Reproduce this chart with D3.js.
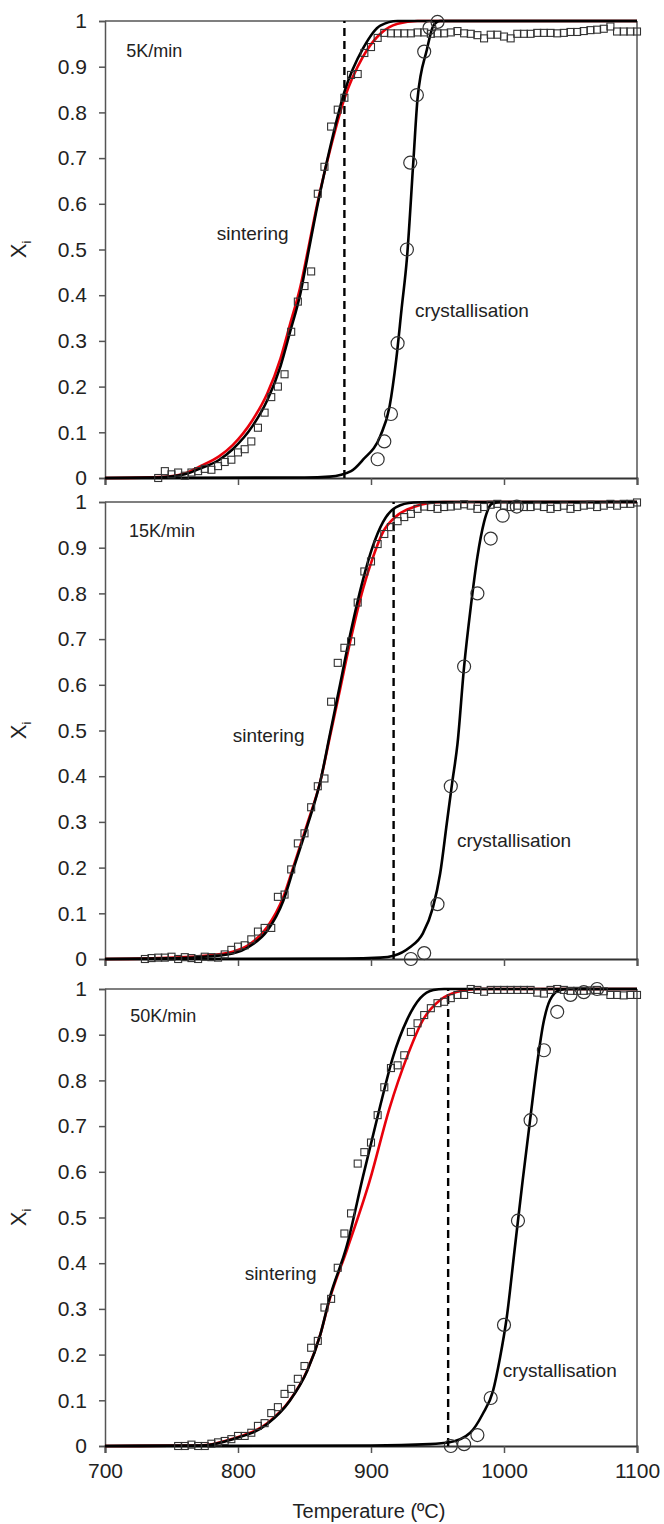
<!DOCTYPE html>
<html>
<head>
<meta charset="utf-8">
<script src="https://cdn.jsdelivr.net/npm/d3@7"></script>
<style>
    body { margin: 0; background: #fff; }
    svg { font-family: "Liberation Sans", Arial, sans-serif; }
</style>
</head>
<body>
<svg id="chart"></svg>
<script>
// ---- data: [temperature (ºC), X_i] ----
let xTicks = [700, 800, 900, 1000, 1100];
let yTicks = [0, 0.1, 0.2, 0.3, 0.4, 0.5, 0.6, 0.7, 0.8, 0.9, 1];
let rates = ["5K/min", "15K/min", "50K/min"];
let dashT = [880, 917, 958];

// sintering measurements (squares)
let sq5 = [[740,0],[745,0.015],[750,0.008],[755,0.012],[760,0.005],[765,0.012],[770,0.015],[775,0.02],
    [780,0.018],[785,0.026],[790,0.035],[795,0.04],[800,0.056],[805,0.063],[810,0.08],[815,0.11],
    [820,0.143],[825,0.177],[830,0.2],[835,0.227],[840,0.32],[845,0.386],[850,0.42],[855,0.452],
    [860,0.622],[865,0.681],[870,0.769],[875,0.806],[880,0.832],[885,0.882],[890,0.884],[895,0.93],
    [900,0.943],[905,0.963],[910,0.974],[915,0.973],[920,0.973],[925,0.973],[930,0.973],[935,0.975],
    [940,0.975],[945,0.972],[950,0.973],[955,0.973],[960,0.975],[965,0.978],[970,0.973],[975,0.972],
    [980,0.969],[985,0.962],[990,0.97],[995,0.97],[1000,0.966],[1005,0.962],[1010,0.972],[1015,0.972],
    [1020,0.972],[1025,0.974],[1030,0.974],[1035,0.974],[1040,0.973],[1045,0.974],[1050,0.976],
    [1055,0.976],[1060,0.978],[1065,0.98],[1070,0.981],[1075,0.983],[1080,0.988],[1085,0.977],
    [1090,0.977],[1095,0.977],[1100,0.977]];
let sq15 = [[730,0],[735,0.002],[740,0.003],[745,0.003],[750,0.005],[755,0],[760,0.004],[765,0.002],
    [770,0],[775,0.005],[780,0.004],[785,0.003],[790,0.01],[795,0.02],[800,0.027],[805,0.03],
    [810,0.043],[815,0.06],[820,0.068],[825,0.068],[830,0.136],[835,0.141],[840,0.196],[845,0.253],
    [850,0.275],[855,0.332],[860,0.378],[865,0.395],[870,0.563],[875,0.648],[880,0.681],[885,0.695],
    [890,0.78],[895,0.848],[900,0.87],[905,0.908],[910,0.93],[915,0.945],[920,0.958],[925,0.967],
    [930,0.974],[935,0.985],[940,0.99],[945,0.989],[950,0.985],[955,0.989],[960,0.99],[965,0.992],
    [970,0.995],[975,0.992],[980,0.985],[985,0.989],[990,0.994],[995,0.996],[1000,0.992],[1005,0.989],
    [1010,0.992],[1015,0.989],[1020,0.989],[1025,0.992],[1030,0.989],[1035,0.985],[1040,0.989],
    [1045,0.992],[1050,0.985],[1055,0.989],[1060,0.992],[1065,0.994],[1070,0.989],[1075,0.992],
    [1080,0.996],[1085,0.992],[1090,0.996],[1095,0.996],[1100,0.999]];
let sq50 = [[755,0],[760,0],[765,0.003],[770,0],[775,0],[780,0.005],[785,0.008],[790,0.011],
    [795,0.015],[800,0.022],[805,0.022],[810,0.029],[815,0.044],[820,0.05],[825,0.072],[830,0.085],
    [835,0.114],[840,0.125],[845,0.147],[850,0.175],[855,0.215],[860,0.23],[865,0.303],[870,0.322],
    [875,0.39],[880,0.465],[885,0.509],[890,0.618],[895,0.643],[900,0.664],[905,0.724],[910,0.785],
    [915,0.827],[920,0.833],[925,0.855],[930,0.906],[935,0.925],[940,0.943],[945,0.958],[950,0.969],
    [955,0.972],[960,0.98],[965,0.987],[970,0.987],[975,1],[980,0.998],[985,0.994],[990,0.998],
    [995,0.998],[1000,0.998],[1005,0.998],[1010,0.998],[1015,0.998],[1020,0.998],[1025,0.992],
    [1030,0.99],[1035,0.998],[1040,1],[1045,0.998],[1050,0.996],[1055,0.996],[1060,0.996],
    [1065,0.997],[1070,0.998],[1075,0.995],[1080,0.987],[1085,0.987],[1090,0.986],[1095,0.987],
    [1100,0.987]];

// crystallisation measurements (circles)
let ci5 = [[905,0.041],[910,0.08],[915,0.14],[920,0.295],[927,0.5],[929.5,0.69],[934.5,0.838],
    [940,0.933],[944,0.985],[950,0.998]];
let ci15 = [[930,0],[940,0.013],[950,0.12],[960,0.378],[970,0.64],[980,0.8],[990,0.92],[999,0.97],
    [1009.6,0.99]];
let ci50 = [[960,0],[970,0.004],[980,0.024],[990,0.105],[1000,0.265],[1010.5,0.493],[1020,0.713],
    [1030,0.866],[1040,0.95],[1050,0.987],[1060,0.993],[1070,1]];

// fitted curves, black sintering / red sintering / black crystallisation
let sinBlack5 = [[700,0],[740,0.001],[760,0.008],[771,0.02],[786,0.04],[796,0.063],[811,0.114],
    [822,0.17],[832,0.245],[839,0.318],[847,0.405],[852,0.48],[860,0.6],[869,0.72],[880,0.845],
    [894,0.94],[907,0.99],[920,1],[1100,1]];
let sinRed5 = [[700,0],[740,0.002],[760,0.01],[771,0.025],[786,0.048],[796,0.072],[811,0.127],
    [822,0.185],[832,0.262],[839,0.335],[847,0.42],[852,0.49],[860,0.605],[869,0.715],[880,0.83],
    [894,0.922],[907,0.972],[920,0.994],[935,1],[1100,1]];
let cry5 = [[700,0],[850,0.001],[869,0.003],[885,0.015],[894,0.04],[907,0.092],[914,0.157],
    [919,0.26],[923,0.37],[927,0.48],[932,0.7],[935,0.83],[942,0.937],[947,0.99],[952,1],[1100,1]];

let sinBlack15 = [[700,0],[740,0.001],[770,0.004],[796,0.012],[810,0.03],[822,0.062],[834,0.127],
    [842,0.2],[852,0.29],[862,0.39],[869,0.49],[876,0.59],[884,0.705],[894,0.83],[901,0.9],
    [909,0.956],[919,0.989],[932,0.999],[945,1],[1100,1]];
let sinRed15 = [[700,0],[740,0.002],[770,0.006],[796,0.016],[810,0.035],[822,0.07],[834,0.135],
    [842,0.205],[852,0.295],[862,0.39],[869,0.485],[876,0.58],[884,0.69],[894,0.81],[901,0.875],
    [909,0.934],[919,0.969],[932,0.989],[944,0.998],[955,1],[1100,1]];
let cry15 = [[700,0],[880,0.001],[907,0.003],[917,0.007],[929,0.025],[939,0.056],[946.6,0.113],
    [952,0.187],[957,0.297],[961,0.385],[965,0.47],[970,0.64],[975,0.77],[980,0.88],[985,0.956],
    [991,0.996],[998,1],[1100,1]];

let sinBlack50 = [[700,0],[771,0.001],[796,0.015],[822,0.048],[839,0.099],[852,0.164],[862,0.245],
    [869,0.325],[882,0.44],[894,0.59],[907,0.745],[916.5,0.851],[927,0.932],[937,0.98],[947,0.998],
    [955,1],[1100,1]];
let sinRed50 = [[700,0],[771,0.001],[796,0.016],[822,0.05],[839,0.1],[852,0.165],[862,0.245],
    [869,0.322],[882,0.43],[899,0.58],[914,0.74],[927,0.851],[939,0.932],[952,0.976],[965,0.994],
    [980,1],[1100,1]];
let cry50 = [[700,0],[900,0.001],[944,0.004],[959,0.008],[974.6,0.029],[984,0.07],[991.7,0.12],
    [997,0.193],[1002,0.28],[1008,0.43],[1014,0.58],[1019.6,0.713],[1025,0.838],[1029.6,0.925],
    [1034.6,0.976],[1042,0.998],[1048,1],[1100,1]];

// ---- layout ----
let W = 664, H = 1524;
let left = 105, right = 637, ph = 457;
let tops = [21, 502, 989];

let svg = d3.select('#chart').attr('width', W).attr('height', H);

let scX = d3.scaleLinear().domain([700, 1100]).range([left, right]);

let panels = [
    { sq: sq5, ci: ci5, red: sinRed5, black: sinBlack5, cry: cry5,
      lab: { rate: [716, 0.921], sin: [784, 0.52], cry: [933, 0.352] } },
    { sq: sq15, ci: ci15, red: sinRed15, black: sinBlack15, cry: cry15,
      lab: { rate: [718, 0.923], sin: [796, 0.475], cry: [964.7, 0.245] } },
    { sq: sq50, ci: ci50, red: sinRed50, black: sinBlack50, cry: cry50,
      lab: { rate: [719, 0.928], sin: [805, 0.363], cry: [999, 0.151] } },
];

function drawPanel(p, i) {
    let top = tops[i];
    let scY = d3.scaleLinear().domain([0, 1]).range([top + ph, top]);
    let g = svg.append('g');

    // frame (top + right)
    g.append('line').attr('x1', left).attr('x2', right).attr('y1', top).attr('y2', top)
        .attr('stroke', '#555').attr('stroke-width', 1.5);
    g.append('line').attr('x1', right).attr('x2', right).attr('y1', top).attr('y2', top + ph)
        .attr('stroke', '#555').attr('stroke-width', 1.5);

    // y axis
    let ya = g.append('g').attr('transform', `translate(${left},0)`)
        .call(d3.axisLeft(scY).tickValues(yTicks).tickSize(6).tickPadding(12)
            .tickFormat(d => d3.format('~g')(d)));
    ya.select('.domain').attr('stroke', '#555').attr('stroke-width', 1.5);
    ya.selectAll('.tick line').attr('stroke', '#555').attr('stroke-width', 1.5);
    ya.selectAll('text').attr('font-size', 21).attr('fill', '#222')
        .attr('font-family', '"Liberation Sans", Arial, sans-serif');

    // x axis
    let xa = g.append('g').attr('transform', `translate(0,${top + ph})`)
        .call(d3.axisBottom(scX).tickValues(xTicks).tickSize(7).tickPadding(10)
            .tickFormat(i === 2 ? d3.format('d') : ''));
    xa.select('.domain').attr('stroke', '#333').attr('stroke-width', 2);
    xa.selectAll('.tick line').attr('stroke', '#555').attr('stroke-width', 1.5);
    xa.selectAll('text').attr('font-size', 21).attr('fill', '#222')
        .attr('font-family', '"Liberation Sans", Arial, sans-serif');

    // y label X_i
    let yl = g.append('text')
        .attr('transform', `translate(26,${scY(0.5)}) rotate(-90)`)
        .attr('text-anchor', 'middle').attr('font-size', 22).attr('fill', '#222');
    yl.append('tspan').text('X');
    yl.append('tspan').attr('font-size', 13).attr('dy', 5).text('i');

    let line = d3.line().x(d => scX(d[0])).y(d => scY(d[1])).curve(d3.curveMonotoneX);

    // curves
    g.append('path').datum(p.red).attr('d', line)
        .attr('fill', 'none').attr('stroke', '#e8000b').attr('stroke-width', 2.6);
    g.append('path').datum(p.black).attr('d', line)
        .attr('fill', 'none').attr('stroke', '#000').attr('stroke-width', 2.6);
    g.append('path').datum(p.cry).attr('d', line)
        .attr('fill', 'none').attr('stroke', '#000').attr('stroke-width', 2.6);

    // dashed vertical
    g.append('line')
        .attr('x1', scX(dashT[i])).attr('x2', scX(dashT[i]))
        .attr('y1', scY(0)).attr('y2', scY(1))
        .attr('stroke', '#000').attr('stroke-width', 2.4).attr('stroke-dasharray', '8,5');

    // squares
    g.selectAll('rect.sq').data(p.sq).enter().append('rect')
        .attr('class', 'sq')
        .attr('x', d => scX(d[0]) - 3.5).attr('y', d => scY(d[1]) - 3.5)
        .attr('width', 7).attr('height', 7)
        .attr('fill', 'none').attr('stroke', '#333').attr('stroke-width', 1.1);

    // circles
    g.selectAll('circle').data(p.ci).enter().append('circle')
        .attr('cx', d => scX(d[0])).attr('cy', d => scY(d[1])).attr('r', 6.5)
        .attr('fill', 'none').attr('stroke', '#333').attr('stroke-width', 1.2);

    // annotations
    g.append('text').attr('x', scX(p.lab.rate[0])).attr('y', scY(p.lab.rate[1]))
        .attr('font-size', 18).attr('fill', '#222').text(rates[i]);
    g.append('text').attr('x', scX(p.lab.sin[0])).attr('y', scY(p.lab.sin[1]))
        .attr('font-size', 19).attr('fill', '#222').text('sintering');
    g.append('text').attr('x', scX(p.lab.cry[0])).attr('y', scY(p.lab.cry[1]))
        .attr('font-size', 19).attr('fill', '#222').text('crystallisation');
}

panels.forEach(drawPanel);

// x axis title
svg.append('text')
    .attr('x', (left + right) / 2 - 2).attr('y', 1518)
    .attr('text-anchor', 'middle').attr('font-size', 20).attr('fill', '#222')
    .text('Temperature (ºC)');
</script>
</body>
</html>
